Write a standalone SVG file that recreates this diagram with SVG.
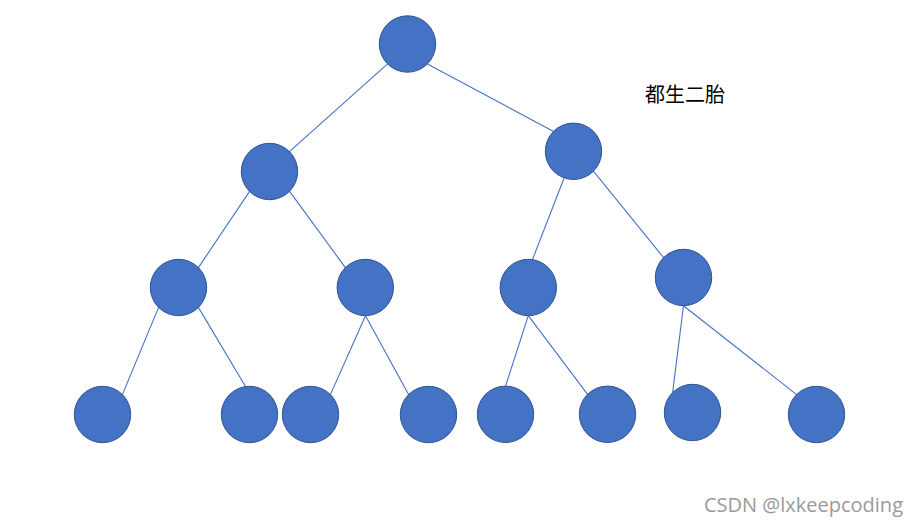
<svg xmlns="http://www.w3.org/2000/svg" width="909" height="525" viewBox="0 0 909 525">
<style>
.n{fill:#4472C4;stroke:#2F528F;stroke-width:1}
.e{stroke:#4472C4;stroke-width:1.1;fill:none}
.t{font-family:"Noto Sans CJK SC","Noto Sans",sans-serif;font-size:20px;fill:#000}
.w{font-family:"Open Sans","Noto Sans",sans-serif;font-size:20px;fill:#9a9a9a}
</style>
<rect width="909" height="525" fill="#fff"/>
<g id="connectors">
<line class="e" x1="387.6" y1="63.9" x2="289.4" y2="151.6"/>
<line class="e" x1="427.4" y1="63.9" x2="553.6" y2="131.4"/>
<line class="e" x1="249.6" y1="191.4" x2="198.4" y2="267.6"/>
<line class="e" x1="289.6" y1="191.4" x2="345.4" y2="267.6"/>
<line class="e" x1="564" y1="178.3" x2="532.5" y2="259.5"/>
<line class="e" x1="593.4" y1="171.2" x2="663.6" y2="257.6"/>
<line class="e" x1="158.6" y1="307.4" x2="122.4" y2="394.6"/>
<line class="e" x1="198.4" y1="307.4" x2="245.5" y2="386.5"/>
<line class="e" x1="365.5" y1="315.7" x2="330.4" y2="394.6"/>
<line class="e" x1="365.5" y1="315.7" x2="408.6" y2="394.6"/>
<line class="e" x1="528.3" y1="315.7" x2="505.5" y2="386.3"/>
<line class="e" x1="528.3" y1="315.7" x2="587.6" y2="394.4"/>
<line class="e" x1="683.5" y1="305.7" x2="672.6" y2="392.6"/>
<line class="e" x1="683.5" y1="305.7" x2="796.6" y2="394.6"/>
</g>
<g id="n0"><circle class="n" cx="407.5" cy="44" r="28.2"/></g>
<g id="n1"><circle class="n" cx="269.5" cy="171.5" r="28.2"/></g>
<g id="n2"><circle class="n" cx="573.5" cy="151.3" r="28.2"/></g>
<g id="n3"><circle class="n" cx="178.5" cy="287.5" r="28.2"/></g>
<g id="n4"><circle class="n" cx="365.3" cy="287.5" r="28.2"/></g>
<g id="n5"><circle class="n" cx="528.3" cy="287.5" r="28.2"/></g>
<g id="n6"><circle class="n" cx="683.5" cy="277.5" r="28.2"/></g>
<g id="n7"><circle class="n" cx="102.5" cy="414.5" r="28.2"/></g>
<g id="n8"><circle class="n" cx="249.5" cy="414.5" r="28.2"/></g>
<g id="n9"><circle class="n" cx="310.5" cy="414.5" r="28.2"/></g>
<g id="n10"><circle class="n" cx="428.5" cy="414.5" r="28.2"/></g>
<g id="n11"><circle class="n" cx="505.5" cy="414.3" r="28.2"/></g>
<g id="n12"><circle class="n" cx="607.5" cy="414.3" r="28.2"/></g>
<g id="n13"><circle class="n" cx="692.5" cy="412.5" r="28.2"/></g>
<g id="n14"><circle class="n" cx="816.5" cy="414.5" r="28.2"/></g>
<g id="label"><text class="t" x="645" y="101.5">都生二胎</text></g>
<g id="watermark"><text class="w" x="903" y="511.5" text-anchor="end">CSDN @lxkeepcoding</text></g>
</svg>
